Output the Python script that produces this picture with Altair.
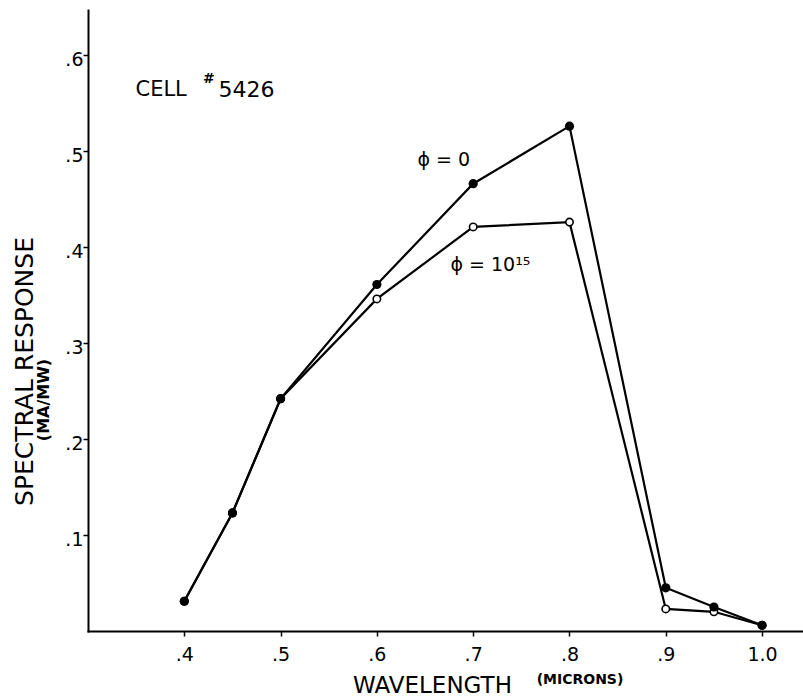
import altair as alt
import pandas as pd

# Data
wavelength = [0.40, 0.45, 0.50, 0.60, 0.70, 0.80, 0.90, 0.95, 1.00]
response_phi0 = [0.031, 0.123, 0.242, 0.361, 0.466, 0.526, 0.045, 0.025, 0.006]
response_phi15 = [0.031, 0.123, 0.242, 0.346, 0.421, 0.426, 0.023, 0.020, 0.006]

x_ticks = [0.4, 0.5, 0.6, 0.7, 0.8, 0.9, 1.0]
x_tick_labels = [".4", ".5", ".6", ".7", ".8", ".9", "1.0"]
y_ticks = [0.1, 0.2, 0.3, 0.4, 0.5, 0.6]
y_tick_labels = [".1", ".2", ".3", ".4", ".5", ".6"]

df0 = pd.DataFrame({"wavelength": wavelength, "response": response_phi0})
df15 = pd.DataFrame({"wavelength": wavelength, "response": response_phi15})
one = pd.DataFrame({"k": [0]})

FONT = "DejaVu Sans"

xlab_expr = "{" + ",".join(f"'{v:.1f}':'{l}'" for v, l in zip(x_ticks, x_tick_labels)) + "}[format(datum.value,'.1f')]"
ylab_expr = "{" + ",".join(f"'{v:.1f}':'{l}'" for v, l in zip(y_ticks, y_tick_labels)) + "}[format(datum.value,'.1f')]"

x_scale = alt.Scale(domain=[0.3, 1.0425], nice=False, zero=False)
y_scale = alt.Scale(domain=[0, 0.647], nice=False)

x_enc = alt.X(
    "wavelength:Q",
    scale=x_scale,
    axis=alt.Axis(
        values=x_ticks, labelExpr=xlab_expr, title="WAVELENGTH",
        grid=False, domainColor="black", domainWidth=2, tickColor="black",
        tickWidth=1.5, tickSize=5, labelPadding=9, labelFont=FONT,
        labelFontSize=19, labelColor="black", titleFont=FONT, titleFontSize=23,
        titleFontWeight="normal", titleColor="black", titleX=344, titleY=54,
        titleBaseline="middle", titleAlign="center",
    ),
)
y_enc = alt.Y(
    "response:Q",
    scale=y_scale,
    axis=alt.Axis(
        values=y_ticks, labelExpr=ylab_expr, title="SPECTRAL RESPONSE",
        grid=False, domainColor="black", domainWidth=2, tickColor="black",
        tickWidth=1.5, tickSize=5, labelPadding=0, labelOffset=4,
        labelFont=FONT, labelFontSize=19, labelColor="black",
        titleFont=FONT, titleFontSize=25, titleFontWeight="normal",
        titleColor="black", titleAngle=270, titleX=-64, titleY=361,
        titleAlign="center", titleBaseline="middle",
    ),
)

line15 = alt.Chart(df15).mark_line(color="black", strokeWidth=2.2).encode(x=x_enc, y=y_enc)
pts15 = alt.Chart(df15).mark_point(
    shape="circle", filled=True, fill="white", stroke="black", strokeWidth=1.6, size=55, opacity=1
).encode(x="wavelength:Q", y="response:Q")
line0 = alt.Chart(df0).mark_line(color="black", strokeWidth=2.2).encode(x="wavelength:Q", y="response:Q")
pts0 = alt.Chart(df0).mark_point(
    shape="circle", filled=True, color="black", size=85, opacity=1
).encode(x="wavelength:Q", y="response:Q")

def label(text, x, y, size, align="left", weight="normal"):
    return alt.Chart(one).mark_text(
        text=text, font=FONT, fontSize=size, align=align, baseline="middle",
        color="black", fontWeight=weight,
    ).encode(x=alt.datum(x), y=alt.datum(y))

cell = label("CELL", 0.3493, 0.5636, 21)
hash_ = label("#", 0.4195, 0.575, 14, weight="bold")
num = label("5426", 0.4355, 0.5636, 22)
phi0 = label("ϕ = 0", 0.6421, 0.4906, 19)
phi15 = label("ϕ = 10¹⁵", 0.6764, 0.381, 19)

microns = alt.Chart(one).mark_text(
    text="(MICRONS)", font=FONT, fontSize=14, fontWeight="bold", align="center",
    baseline="middle", color="black",
).encode(x=alt.value(492), y=alt.value(670))
mamw = alt.Chart(one).mark_text(
    text="(MA/MW)", font=FONT, fontSize=16, fontWeight="bold", align="center",
    baseline="middle", color="black", angle=270,
).encode(x=alt.value(-44), y=alt.value(390))

chart = alt.layer(
    line15, line0, pts15, pts0, cell, hash_, num, phi0, phi15, microns, mamw
).properties(
    width=715, height=621,
    autosize=alt.AutoSizeParams(type="none"),
    padding={"left": 88, "top": 10, "right": 0, "bottom": 67},
    background="white",
).configure_view(stroke=None).configure_axis(domainCap="square")

chart.save("out.html", embed_options={"renderer": "svg", "actions": False})
